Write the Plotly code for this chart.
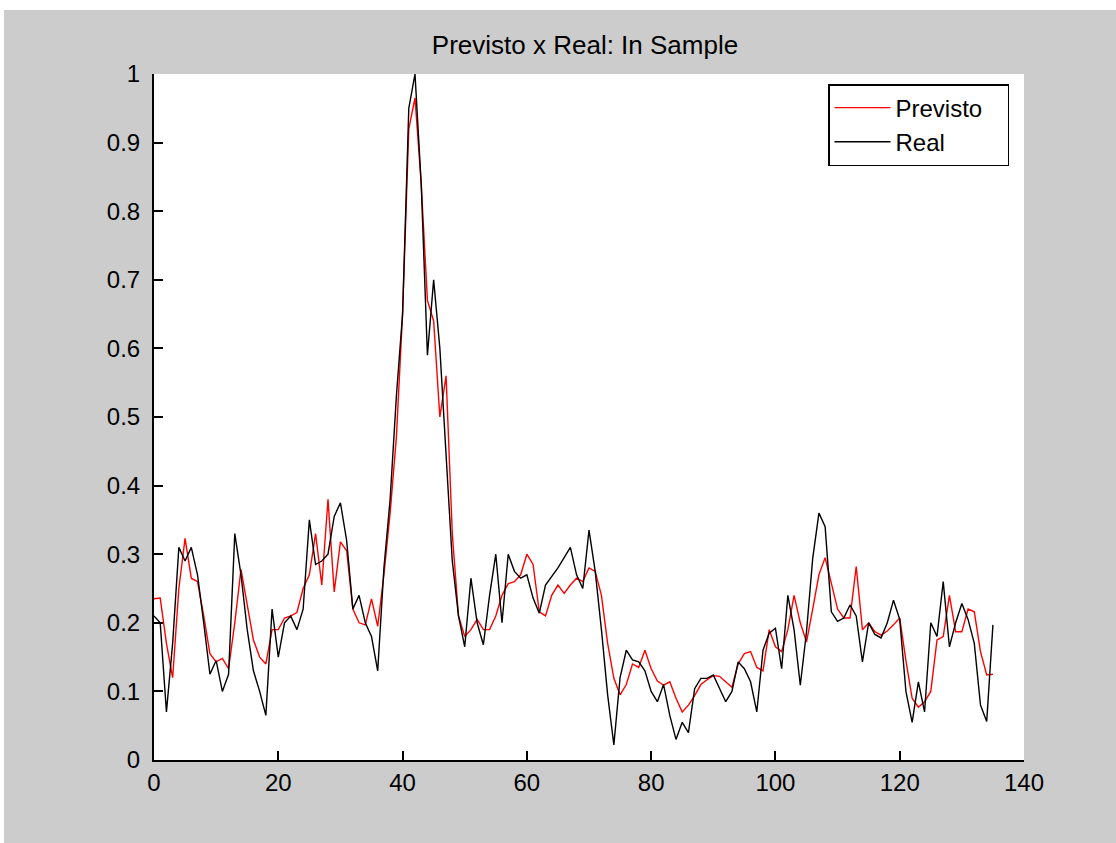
import plotly.graph_objects as go

# ---- data ----
sample_index = list(range(136))

real = [
    0.21, 0.20, 0.07, 0.17, 0.31, 0.29, 0.31, 0.27, 0.20, 0.125,
    0.145, 0.10, 0.125, 0.33, 0.27, 0.19, 0.13, 0.10, 0.065, 0.22,
    0.15, 0.20, 0.21, 0.19, 0.22, 0.35, 0.285, 0.29, 0.30, 0.355,
    0.375, 0.32, 0.22, 0.24, 0.20, 0.18, 0.13, 0.28, 0.38, 0.53,
    0.65, 0.95, 1.0, 0.84, 0.59, 0.70, 0.60, 0.44, 0.29, 0.21,
    0.165, 0.265, 0.20, 0.168, 0.24, 0.30, 0.20, 0.30, 0.275, 0.265,
    0.27, 0.236, 0.214, 0.255, 0.268, 0.28, 0.295, 0.31, 0.27, 0.25,
    0.335, 0.275, 0.19, 0.095, 0.022, 0.12, 0.16, 0.146, 0.143, 0.13,
    0.10, 0.085, 0.11, 0.065, 0.03, 0.055, 0.04, 0.104, 0.119, 0.119,
    0.124, 0.105, 0.085, 0.10, 0.143, 0.133, 0.114, 0.07, 0.16, 0.185,
    0.192, 0.133, 0.24, 0.19, 0.109, 0.187, 0.294, 0.36, 0.34, 0.216,
    0.202, 0.207, 0.226, 0.21, 0.143, 0.20, 0.183, 0.178, 0.20, 0.233,
    0.205, 0.10, 0.055, 0.114, 0.07, 0.20, 0.18, 0.26, 0.165, 0.20,
    0.228, 0.205, 0.17, 0.08, 0.056, 0.197,
]

previsto = [
    0.235, 0.236, 0.17, 0.12, 0.25, 0.323, 0.265, 0.26, 0.21, 0.155,
    0.143, 0.148, 0.133, 0.20, 0.278, 0.226, 0.175, 0.15, 0.14, 0.19,
    0.19, 0.207, 0.21, 0.215, 0.25, 0.27, 0.33, 0.255, 0.38, 0.245,
    0.318, 0.305, 0.22, 0.20, 0.197, 0.235, 0.195, 0.27, 0.36, 0.47,
    0.65, 0.92, 0.965, 0.84, 0.67, 0.64, 0.50, 0.56, 0.33, 0.21,
    0.18, 0.19, 0.205, 0.19, 0.19, 0.21, 0.24, 0.257, 0.26, 0.27,
    0.30, 0.285, 0.216, 0.21, 0.24, 0.255, 0.243, 0.255, 0.265, 0.26,
    0.28, 0.275, 0.24, 0.17, 0.119, 0.095, 0.11, 0.14, 0.135, 0.16,
    0.133, 0.115, 0.109, 0.114, 0.09, 0.07, 0.08, 0.094, 0.11, 0.117,
    0.123, 0.122, 0.114, 0.106, 0.14, 0.155, 0.158, 0.135, 0.13, 0.19,
    0.165, 0.158, 0.19, 0.24, 0.20, 0.172, 0.22, 0.27, 0.295, 0.255,
    0.22, 0.207, 0.207, 0.282, 0.19, 0.20, 0.187, 0.182, 0.188, 0.197,
    0.207, 0.145, 0.09, 0.077, 0.085, 0.10, 0.175, 0.18, 0.24, 0.187,
    0.187, 0.22, 0.216, 0.158, 0.124, 0.125,
]

series_names = ["Previsto", "Real"]
title_text = "Previsto x Real: In Sample"
x_ticks = [0, 20, 40, 60, 80, 100, 120, 140]
y_ticks = [0, 0.1, 0.2, 0.3, 0.4, 0.5, 0.6, 0.7, 0.8, 0.9, 1]
y_tick_labels = ["0", "0.1", "0.2", "0.3", "0.4", "0.5", "0.6", "0.7", "0.8", "0.9", "1"]

FONT = "Liberation Sans, Arial, sans-serif"
W, H = 1116, 843
L, R, T, B = 154, 92, 74, 83
NBSP = "\u00a0"

fig = go.Figure()
fig.add_trace(go.Scatter(x=sample_index, y=previsto, mode="lines",
                         name=series_names[0] + NBSP * 3,
                         line=dict(color="#ff0000", width=1.4)))
fig.add_trace(go.Scatter(x=sample_index, y=real, mode="lines",
                         name=series_names[1] + NBSP * 3,
                         line=dict(color="#000000", width=1.4)))

pw = W - L - R
ph = H - T - B
# white strips at the top and left edge of the window
fig.add_shape(type="rect", xref="paper", yref="paper", layer="below",
              x0=(0 - L) / pw, x1=(W - L) / pw, y0=(H - B - 10) / ph, y1=(H - B) / ph,
              fillcolor="white", line=dict(width=0))
fig.add_shape(type="rect", xref="paper", yref="paper", layer="below",
              x0=(0 - L) / pw, x1=(4 - L) / pw, y0=(0 - B) / ph, y1=(H - B) / ph,
              fillcolor="white", line=dict(width=0))

axis_common = dict(showline=True, linecolor="black", linewidth=2, mirror=False,
                   ticks="inside", ticklen=9, tickwidth=1.5, tickcolor="black",
                   showgrid=False, zeroline=False,
                   tickfont=dict(family=FONT, size=24, color="black"))

fig.update_layout(
    width=W, height=H,
    margin=dict(l=L, r=R, t=T, b=B, pad=0),
    paper_bgcolor="#cccccc",
    plot_bgcolor="white",
    title=dict(text=title_text, x=585 / W, xanchor="center", y=1 - 45 / H, yanchor="middle",
               font=dict(family=FONT, size=26, color="black")),
    xaxis=dict(range=[0, 140], tickvals=x_ticks, ticktext=[str(v) for v in x_ticks],
               ticklabelstandoff=0, **axis_common),
    yaxis=dict(range=[0, 1], tickvals=y_ticks, ticktext=y_tick_labels,
               ticklabelstandoff=7, **axis_common),
    legend=dict(x=(1009 - L) / pw, xanchor="right", y=(H - B - 84) / ph, yanchor="top",
                bgcolor="white", bordercolor="black", borderwidth=1.5,
                font=dict(family=FONT, size=24, color="black"),
                itemwidth=56, tracegroupgap=0),
    showlegend=True,
)

fig.write_html("out.html")
